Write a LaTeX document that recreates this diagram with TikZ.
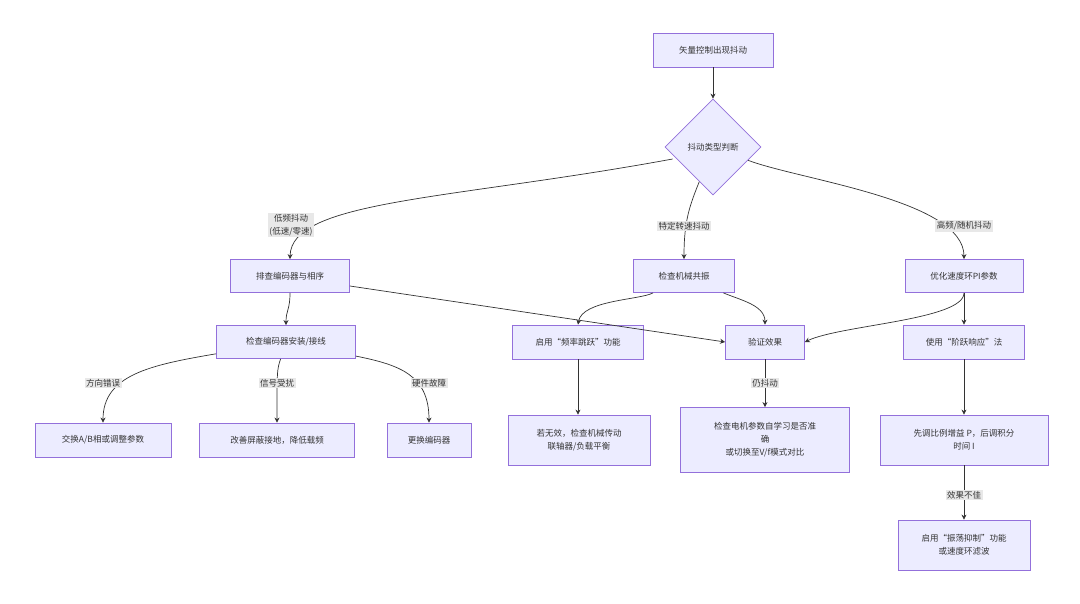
\documentclass[tikz,border=0pt]{standalone}
\usepackage{fontspec}
\setmainfont{Noto Sans CJK SC}
\usetikzlibrary{shapes.geometric,arrows.meta,positioning}
\definecolor{boxfill}{HTML}{ECECFF}
\definecolor{boxline}{HTML}{9370DB}
\definecolor{edgecol}{HTML}{333333}
\definecolor{lblfill}{HTML}{E8E8E8}
\tikzstyle{task} = [rectangle, draw=boxline, fill=boxfill, line width=0.8pt, align=center, font=\fontsize{8.5}{13}\selectfont, text=edgecol, inner sep=0pt]
\tikzstyle{decide} = [diamond, aspect=1, draw=boxline, fill=boxfill, line width=0.8pt, font=\fontsize{8.5}{13}\selectfont, text=edgecol, minimum width=96pt, minimum height=96pt, inner sep=0pt]
\tikzstyle{arrow} = [draw=edgecol, line width=0.7pt, -{Stealth[length=5pt,width=5pt]}]
\tikzstyle{lbl} = [fill=lblfill, align=center, font=\fontsize{8.5}{13}\selectfont, text=edgecol, inner sep=1.5pt]

\begin{document}
\begin{tikzpicture}[x=1pt, y=-1pt]
\useasboundingbox (0,0) rectangle (1080,603);

\node (start) [task, minimum width=120pt, minimum height=34pt] at (713,50) {矢量控制出现抖动};
\node (judge) [decide] at (713,147) {抖动类型判断};
\node (enc) [task, minimum width=119pt, minimum height=33pt] at (290,276) {排查编码器与相序};
\node (mech) [task, minimum width=101pt, minimum height=33pt] at (684,276) {检查机械共振};
\node (pi) [task, minimum width=118pt, minimum height=33pt] at (964,276) {优化速度环PI参数};
\node (encinst) [task, minimum width=139pt, minimum height=33pt] at (286,342) {检查编码器安装/接线};
\node (skip) [task, minimum width=131pt, minimum height=34pt] at (578,342) {启用“频率跳跃”功能};
\node (verify) [task, minimum width=79pt, minimum height=34pt] at (765,342) {验证效果};
\node (stepresp) [task, minimum width=121pt, minimum height=34pt] at (964,342) {使用“阶跃响应”法};
\node (swap) [task, minimum width=136pt, minimum height=34pt] at (103,440) {交换A/B相或调整参数};
\node (shield) [task, minimum width=155pt, minimum height=34pt] at (277,440) {改善屏蔽接地，降低载频};
\node (replace) [task, minimum width=84pt, minimum height=34pt] at (429,440) {更换编码器};
\node (ifno) [task, minimum width=142pt, minimum height=50pt] at (579,440) {若无效，检查机械传动\\联轴器/负载平衡};
\node (motor) [task, minimum width=169pt, minimum height=65pt] at (765,440) {检查电机参数自学习是否准\\确\\或切换至V/f模式对比};
\node (pfirst) [task, minimum width=168pt, minimum height=50pt] at (964,440) {先调比例增益 P，后调积分\\时间 I};
\node (osc) [task, minimum width=132pt, minimum height=50pt] at (964,545) {启用“振荡抑制”功能\\或速度环滤波};

\draw [arrow] (start) -- (judge);
\draw [arrow] (judge.west) ++(8,12) .. controls (450,200) and (291,200) .. (enc.north);
\draw [arrow] (judge) .. controls (690,205) and (684,220) .. (mech.north);
\draw [arrow] (judge) .. controls (800,180) and (964,200) .. (pi.north);
\draw [arrow] (enc) .. controls (290,310) and (286,310) .. (encinst.north);
\draw [arrow] (enc.east) ++(0,10) -- (verify.west);
\draw [arrow] (mech) .. controls (640,300) and (582,300) .. (skip.north);
\draw [arrow] (mech) .. controls (740,300) and (765,305) .. (verify.north);
\draw [arrow] (pi) .. controls (964,320) and (840,325) .. (verify.east);
\draw [arrow] (pi) -- (stepresp);
\draw [arrow] (encinst) .. controls (150,365) and (103,375) .. (swap.north);
\draw [arrow] (encinst) .. controls (277,370) .. (shield.north);
\draw [arrow] (encinst) .. controls (400,365) and (429,375) .. (replace.north);
\draw [arrow] (skip) -- (ifno.north -| skip);
\draw [arrow] (verify) -- (motor);
\draw [arrow] (stepresp) -- (pfirst);
\draw [arrow] (pfirst) -- (osc);

\node [lbl] at (291,225) {低频抖动\\(低速/零速)};
\node [lbl] at (684,226) {特定转速抖动};
\node [lbl] at (964,226) {高频/随机抖动};
\node [lbl] at (103,383) {方向错误};
\node [lbl] at (277,383) {信号受扰};
\node [lbl] at (429,383) {硬件故障};
\node [lbl] at (765,383) {仍抖动};
\node [lbl] at (964,495) {效果不佳};
\end{tikzpicture}
\end{document}
